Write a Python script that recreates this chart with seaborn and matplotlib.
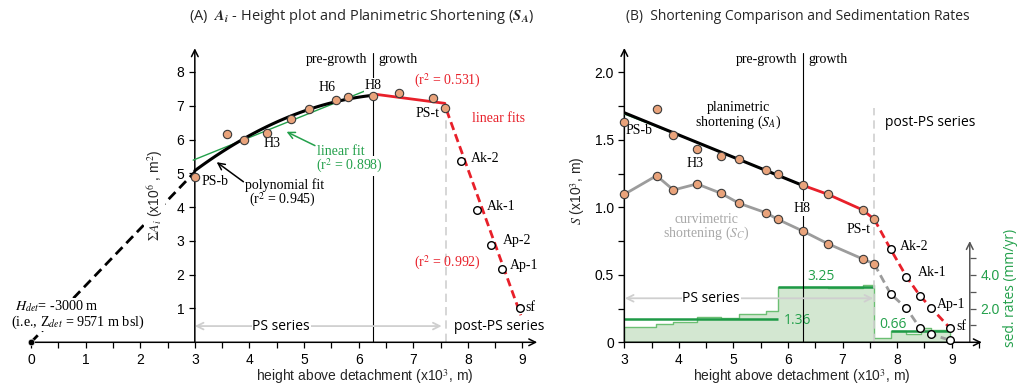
import numpy as np
import matplotlib
matplotlib.use('Agg')
import matplotlib.pyplot as plt
from matplotlib.ticker import MultipleLocator, FixedLocator
import seaborn as sns

# ── data ─────────────────────────────────────────────────────
# horizon heights above detachment (x10^3 m), PS-b ... PS-t
h_hor   = [3.00, 3.59, 3.90, 4.33, 4.77, 5.10, 5.59, 5.81, 6.27, 6.73, 7.37, 7.58]
# post-PS series: Ak-2, Ak-1, Ap-2, Ap-1, sf
h_post  = [7.88, 8.17, 8.42, 8.62, 8.96]

# (A) cumulative area sum A_i (x10^6 m2)
A_hor   = [4.90, 6.15, 5.98, 6.20, 6.61, 6.91, 7.16, 7.25, 7.29, 7.37, 7.24, 6.92]
A_post  = [5.36, 3.91, 2.89, 2.16, 1.02]

# fit lines (A)
ext_h      = [0.0, 3.0];   ext_A      = [0.0, 5.04]   # extrapolation to H_det
linfit_h   = [2.97, 6.12]; linfit_A   = [5.39, 7.44]  # linear fit r2 .898
growfit_h  = [6.30, 7.58]; growfit_A  = [7.34, 7.07]  # r2 .531
postfit_h  = [7.61, 8.97]; postfit_A  = [6.87, 0.80]  # r2 .992

# (B) shortening (x10^3 m)
S_A      = [1.634, 1.726, 1.536, 1.432, 1.380, 1.358, 1.276, 1.244, 1.163, 1.096, 0.980, 0.911]
S_A_post = [0.689, 0.486, 0.343, 0.256, 0.108]
S_C      = [1.096, 1.234, 1.128, 1.173, 1.104, 1.030, 0.960, 0.911, 0.824, 0.730, 0.617, 0.580]
S_C_post = [0.358, 0.252, 0.104, 0.059, 0.017]
safit_h  = [3.0, 6.28]; safit_S = [1.70, 1.16]

# sedimentation rates (mm/yr) between horizons
sed_edges = [3.00, 3.58, 3.90, 4.33, 4.77, 5.10, 5.59, 5.81, 6.28, 6.73, 7.38, 7.58,
             7.89, 8.17, 8.44, 8.62, 8.96]
sed_rate  = [0.90, 1.06, 1.19, 1.51, 1.41, 1.65, 1.84, 3.27, 3.27, 3.23, 3.39,
             0.27, 0.65, 0.47, 0.82, 0.72]
mean_rate  = [1.36, 3.25, 0.66]
mean_start = [3.00, 5.81, 7.89]
mean_end   = [5.81, 7.58, 8.96]

H_SPLIT = 6.27   # pre-growth | growth
H_PST   = 7.60   # top of PS series

# ── style ────────────────────────────────────────────────────
sns.set_theme(style='ticks', rc={'xtick.labelsize': 10, 'ytick.labelsize': 10,
                                 'xtick.major.size': 4, 'ytick.major.size': 4,
                                 'xtick.minor.size': 4, 'ytick.minor.size': 4,
                                 'xtick.major.width': 0.9, 'ytick.major.width': 0.9,
                                 'xtick.minor.width': 0.9, 'ytick.minor.width': 0.9,
                                 'xtick.color': 'black', 'ytick.color': 'black'})
plt.rcParams['font.family'] = ['Liberation Sans', 'DejaVu Sans']
plt.rcParams['mathtext.fontset'] = 'stix'

RED    = '#e8202a'
GREEN  = '#23a04b'
ORANGE = '#e9a37b'
GREY   = '#9c9c9c'
LGREY  = '#cfcfcf'
SERIF  = ['Liberation Serif', 'DejaVu Serif']
MYR    = ['Open Sans', 'DejaVu Sans']
WBOX   = dict(facecolor='white', edgecolor='none', pad=0.5)
TBOX   = dict(facecolor='white', edgecolor='none', pad=0.0)

fig = plt.figure(figsize=(10.2, 3.92), dpi=100)
axA = fig.add_axes([0.0304, 0.1268, 0.5059, 0.7587])
axB = fig.add_axes([0.6121, 0.1268, 0.3531, 0.7577])


def pts(ax, x, y, filled=True):
    if filled:
        sns.scatterplot(x=x, y=y, ax=ax, s=36, color=ORANGE, edgecolor='#3a3a3a',
                        linewidth=0.8, zorder=6, clip_on=False)
    else:
        sns.scatterplot(x=x, y=y, ax=ax, s=30, color='white', edgecolor='black',
                        linewidth=1.0, zorder=6, clip_on=False)


def arrow(ax, p0, p1, color='black', lw=1.1, style='->'):
    ax.annotate('', xy=p1, xytext=p0, annotation_clip=False,
                arrowprops=dict(arrowstyle=style, color=color, lw=lw,
                                shrinkA=0, shrinkB=0))


def txt(ax, x, y, s, fam=SERIF, size=10, color='black', ha='center', **kw):
    ax.text(x, y, s, family=fam, fontsize=size, color=color, ha=ha,
            va='center', **kw)

# ─────────────────────────────────────────────────────────────
# (A) A_i - height plot
# ─────────────────────────────────────────────────────────────
ax = axA
ax.set_xlim(0, 9.45); ax.set_ylim(0, 8.8)
for sp in ax.spines.values():
    sp.set_visible(False)
ax.spines['left'].set_position(('data', 3))
arrow(ax, (0, 0), (9.27, 0))
arrow(ax, (3, 0), (3, 8.7))
ax.xaxis.set_major_locator(MultipleLocator(1))
ax.xaxis.set_minor_locator(MultipleLocator(0.5))
ax.set_yticks(range(1, 9))

ax.plot([H_SPLIT, H_SPLIT], [0, 8.56], color='black', lw=0.8, zorder=1)
ax.plot([H_PST, H_PST], [0, 6.63], color=LGREY, lw=1.2, ls=(0, (5, 3)), zorder=1)

sns.lineplot(x=ext_h, y=ext_A, ax=ax, color='black', lw=2, linestyle=(0, (3.5, 2)),
             sort=False, estimator=None, zorder=2)
sns.scatterplot(x=ext_h[:1], y=ext_A[:1], ax=ax, s=22, color='black', zorder=6, clip_on=False)
sns.lineplot(x=linfit_h, y=linfit_A, ax=ax, color=GREEN, lw=1, zorder=3)
sns.regplot(x=h_hor[:9], y=A_hor[:9], ax=ax, order=2, ci=None, scatter=False,
            line_kws=dict(color='black', lw=2.2, zorder=4))
sns.lineplot(x=growfit_h, y=growfit_A, ax=ax, color=RED, lw=2, zorder=3)
sns.lineplot(x=postfit_h, y=postfit_A, ax=ax, color=RED, lw=2, linestyle=(0, (3, 1.6)), zorder=3)
pts(ax, h_hor, A_hor)
pts(ax, h_post, A_post, filled=False)
ax.set_xlabel(''); ax.set_ylabel('')

txt(ax, 6.15, 8.37, 'pre-growth', ha='right')
txt(ax, 6.37, 8.37, 'growth', ha='left')
txt(ax, 6.27, 7.6, 'H8', bbox=WBOX, zorder=5)
txt(ax, 5.42, 7.53, 'H6')
txt(ax, 4.41, 5.87, 'H3')
txt(ax, 3.37, 4.75, 'PS-b')
txt(ax, 7.26, 6.77, 'PS-t')
txt(ax, 4.64, 4.65, 'polynomial fit')
txt(ax, 4.61, 4.21, r'(r$^2$ = 0.945)')
txt(ax, 5.68, 5.64, 'linear fit', color=GREEN, bbox=WBOX, zorder=5)
txt(ax, 5.84, 5.22, r'(r$^2$ = 0.898)', color=GREEN, bbox=WBOX, zorder=5)
txt(ax, 7.62, 7.73, r'(r$^2$ = 0.531)', color=RED)
txt(ax, 8.57, 6.63, 'linear fits', color=RED)
txt(ax, 7.63, 2.36, r'(r$^2$ = 0.992)', color=RED)
for lab, x, y in [('Ak-2', 8.05, 5.44), ('Ak-1', 8.35, 4.03), ('Ap-2', 8.65, 3.01),
                  ('Ap-1', 8.77, 2.26), ('sf', 9.06, 1.02)]:
    txt(ax, x, y, lab, ha='left')
txt(ax, 0.48, 1.08, r'$H_{det}$= -3000 m', size=10.2, bbox=TBOX, zorder=5)
txt(ax, 0.85, 0.60, r'(i.e., Z$_{det}$ = 9571 m bsl)', size=10.2, bbox=TBOX, zorder=5)
arrow(ax, (3.89, 4.75), (3.40, 5.33))
arrow(ax, (5.20, 5.82), (4.68, 6.23), color=GREEN)
arrow(ax, (3.0, 0.48), (7.52, 0.48), color=LGREY, lw=1.3, style='<->')
txt(ax, 4.58, 0.48, 'PS series', fam=MYR, size=10, bbox=WBOX, zorder=5)
txt(ax, 8.57, 0.48, 'post-PS series', fam=MYR, size=10)
ax.text(2.27, 4.35, r'$\Sigma A_i$ (x10$^6$ , m$^2$)', rotation=90, ha='center',
        va='center', fontsize=10, bbox=WBOX, zorder=5)
ax.text(6.12, -0.1157, r'height above detachment (x10$^3$, m)', ha='center', va='center',
        fontsize=10, transform=ax.get_xaxis_transform())

# ─────────────────────────────────────────────────────────────
# (B) shortening comparison and sedimentation rates
# ─────────────────────────────────────────────────────────────
ax = axB
ax2 = ax.twinx()
ax2.set_zorder(ax.get_zorder() - 1)
ax.patch.set_visible(False)

sns.histplot(x=sed_edges[:-1], weights=sed_rate, bins=sed_edges, ax=ax2, element='step',
             fill=True, facecolor='#d3e7d1', edgecolor='#6cbf73', linewidth=1.0, alpha=1)
ax2.hlines(mean_rate, mean_start, mean_end, color='#1e9a46', lw=1.8)
ax2.set_xlim(3, 9.6); ax2.set_ylim(0, 17.6)
for sp in ax2.spines.values():
    sp.set_visible(False)
ax2.spines['right'].set_position(('data', 9.33))
ax2.yaxis.set_major_locator(FixedLocator([1, 2, 3, 4, 5]))
ax2.set_yticklabels(['', '2.0', '', '4.0', ''])
ax2.tick_params(axis='y', colors='#555555', labelcolor=GREEN, labelsize=10)
ax2.set_ylabel('')
arrow(ax2, (9.33, 0), (9.33, 6.0), color='#555555')
ax2.text(10.07, 3.2, 'sed. rates (mm/yr)', rotation=90, ha='center', va='center',
         fontsize=10, color=GREEN, family=MYR)
txt(ax2, 5.93, 1.31, '1.36', fam=MYR, color=GREEN, ha='left')
txt(ax2, 6.60, 3.90, '3.25', fam=MYR, color=GREEN)
txt(ax2, 7.92, 1.08, '0.66', fam=MYR, color=GREEN)

ax.set_xlim(3, 9.6); ax.set_ylim(0, 2.2)
for sp in ax.spines.values():
    sp.set_visible(False)
arrow(ax, (3, 0), (9.55, 0))
arrow(ax, (3, 0), (3, 2.18))
ax.xaxis.set_major_locator(MultipleLocator(1))
ax.xaxis.set_minor_locator(MultipleLocator(0.5))
ax.set_yticks([0, 0.5, 1.0, 1.5, 2.0])
ax.set_yticklabels(['0', '0.5', '1.0', '1.5', '2.0'])
ax.yaxis.set_minor_locator(MultipleLocator(0.25))

ax.plot([6.28, 6.28], [0, 2.14], color='black', lw=0.8, zorder=1)
ax.plot([7.58, 7.58], [0, 1.735], color=LGREY, lw=1.2, ls=(0, (5, 3)), zorder=1)

sns.lineplot(x=h_hor, y=S_C, ax=ax, color=GREY, lw=2, sort=False, estimator=None, zorder=3)
sns.lineplot(x=h_hor[-1:] + h_post, y=S_C[-1:] + S_C_post, ax=ax, color=GREY, lw=2,
             linestyle=(0, (3, 1.6)), sort=False, estimator=None, zorder=3)
sns.regplot(x=h_hor[:9], y=S_A[:9], ax=ax, order=2, ci=None, scatter=False,
            line_kws=dict(color=GREEN, lw=1, zorder=3))
sns.lineplot(x=safit_h, y=safit_S, ax=ax, color='black', lw=2.2, zorder=4)
sns.lineplot(x=h_hor[8:], y=S_A[8:], ax=ax, color=RED, lw=2, sort=False, estimator=None, zorder=3)
sns.lineplot(x=h_hor[-1:] + h_post, y=S_A[-1:] + S_A_post, ax=ax, color=RED, lw=2,
             linestyle=(0, (3, 1.6)), sort=False, estimator=None, zorder=3)
pts(ax, h_hor, S_A)
pts(ax, h_hor, S_C)
pts(ax, h_post, S_A_post, filled=False)
pts(ax, h_post, S_C_post, filled=False)
ax.set_xlabel(''); ax.set_ylabel('')

txt(ax, 6.17, 2.096, 'pre-growth', ha='right')
txt(ax, 6.38, 2.096, 'growth', ha='left')
txt(ax, 5.09, 1.741, 'planimetric')
txt(ax, 5.09, 1.627, r'shortening ($S_A$)')
txt(ax, 3.27, 1.567, 'PS-b')
txt(ax, 4.30, 1.321, 'H3')
txt(ax, 4.51, 0.906, 'curvimetric', color='#a8a8a8')
txt(ax, 4.51, 0.807, r'shortening ($S_C$)', color='#a8a8a8')
txt(ax, 6.25, 0.99, 'H8', bbox=WBOX, zorder=5)
txt(ax, 7.30, 0.832, 'PS-t')
for lab, x, y in [('Ak-2', 8.04, 0.708), ('Ak-1', 8.37, 0.519), ('Ap-1', 8.72, 0.281),
                  ('sf', 9.08, 0.116)]:
    txt(ax, x, y, lab, ha='left')
txt(ax, 8.60, 1.627, 'post-PS series', fam=MYR)
arrow(ax, (3.01, 0.326), (7.56, 0.326), color=LGREY, lw=1.3, style='<->')
txt(ax, 4.59, 0.326, 'PS series', fam=MYR, bbox=WBOX, zorder=5)
ax.text(2.15, 1.12, r'$S$ (x10$^3$, m)', rotation=90, ha='center', va='center', fontsize=10)
ax.text(6.25, -0.1157, r'height above detachment (x10$^3$, m)', ha='center', va='center',
        fontsize=10, transform=ax.get_xaxis_transform())

# ── titles ───────────────────────────────────────────────────
fig.text(0.355, 0.957, r'(A)  $\mathbfit{A_i}$ - Height plot and Planimetric Shortening ($\mathbfit{S_A}$)',
         ha='center', va='center', fontsize=10.5, family=MYR)
fig.text(0.7826, 0.957, '(B)  Shortening Comparison and Sedimentation Rates',
         ha='center', va='center', fontsize=10, family=MYR)

fig.savefig('out.png', dpi=100)
